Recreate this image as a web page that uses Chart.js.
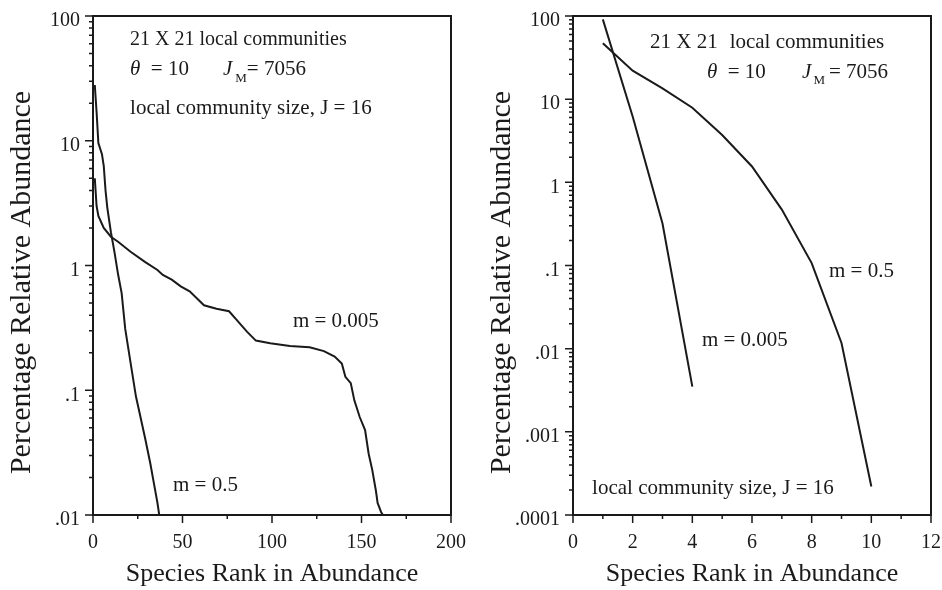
<!DOCTYPE html>
<html>
<head>
<meta charset="utf-8">
<script src="https://cdn.jsdelivr.net/npm/chart.js@4.4.1/dist/chart.umd.min.js"></script>
<style>
  body { margin: 0; background: #fff; }
  #wrap { position: relative; width: 942px; height: 590px; }
  canvas { position: absolute; top: 0; }
  #rankLeft { left: 0; }
  #rankRight { left: 470px; }
</style>
</head>
<body>
<div id="wrap">
  <canvas id="rankLeft" width="470" height="590"></canvas>
  <canvas id="rankRight" width="472" height="590"></canvas>
</div>
<script>
// J = 16, 21 x 21 grid: rank-abundance for the two migration rates
var leftRankM005 = [1, 2, 3, 6, 10, 14, 21, 29, 36, 39, 44, 49, 54, 62, 69, 76, 80, 86, 91, 99,
  110, 121, 129, 135, 139, 141, 144, 146, 149, 152, 154, 156, 158, 159, 161, 162];
var leftAbundM005 = [5.0, 3.0, 2.5, 2.0, 1.7, 1.55, 1.29, 1.07, 0.92, 0.84, 0.77, 0.68, 0.62, 0.48, 0.45, 0.43, 0.37, 0.295, 0.25, 0.238,
  0.226, 0.221, 0.206, 0.186, 0.164, 0.128, 0.114, 0.083, 0.061, 0.048, 0.031, 0.023, 0.0158, 0.0125, 0.0105, 0.01];
var leftRankM05 = [1, 2, 3, 5, 6, 7, 8, 10, 12, 14, 16, 18, 21, 24, 26, 29, 32, 34, 36, 37];
var leftAbundM05 = [28, 17, 9.6, 7.8, 6.3, 4.0, 2.9, 1.85, 1.28, 0.85, 0.6, 0.31, 0.166, 0.089, 0.066, 0.042, 0.026, 0.018, 0.0125, 0.01];

var rightRankM05 = [1, 2, 3, 4, 5, 6, 7, 8, 9, 10];
var rightAbundM05 = [47, 22, 13.5, 7.9, 3.7, 1.55, 0.47, 0.107, 0.0117, 0.00022];
var rightRankM005 = [1, 2, 3, 4];
var rightAbundM005 = [91, 6.2, 0.32, 0.0035];

var leftXTicks = [0, 50, 100, 150, 200];
var leftXLabels = ['0', '50', '100', '150', '200'];
var leftXMinor = [25, 75, 125, 175];
var leftYTicks = [0.01, 0.1, 1, 10, 100];
var leftYLabels = ['.01', '.1', '1', '10', '100'];

var rightXTicks = [0, 2, 4, 6, 8, 10, 12];
var rightXLabels = ['0', '2', '4', '6', '8', '10', '12'];
var rightXMinor = [1, 3, 5, 7, 9, 11];
var rightYTicks = [0.0001, 0.001, 0.01, 0.1, 1, 10, 100];
var rightYLabels = ['.0001', '.001', '.01', '.1', '1', '10', '100'];

var SERIF = '"Liberation Serif", "Times New Roman", serif';
var INK = '#1a1a1a';
Chart.defaults.font.family = SERIF;
Chart.defaults.color = INK;

function pairs(xs, ys) {
  return xs.map(function (x, i) { return { x: x, y: ys[i] }; });
}

// 2..9 between each pair of decades
function logMinors(decades) {
  var out = [];
  for (var i = 0; i < decades.length - 1; i++) {
    for (var k = 2; k <= 9; k++) out.push(k * decades[i]);
  }
  return out;
}

// keep the plot box where the layout padding puts it (labels may overhang)
function noLabelPadding(s) {
  s.paddingTop = 0; s.paddingBottom = 0; s.paddingLeft = 0; s.paddingRight = 0;
}

// box frame plus outward tick marks (long for majors, short for minors)
var tickMarks = {
  id: 'tickMarks',
  afterDraw: function (chart, args, opts) {
    var ctx = chart.ctx, a = chart.chartArea;
    var xs = chart.scales.x, ys = chart.scales.y;
    ctx.save();
    ctx.strokeStyle = INK;
    ctx.lineWidth = 2;
    ctx.strokeRect(a.left, a.top, a.right - a.left, a.bottom - a.top);
    ctx.lineWidth = 1.5;
    ctx.beginPath();
    opts.xMajor.forEach(function (v) {
      var px = xs.getPixelForValue(v);
      ctx.moveTo(px, a.bottom); ctx.lineTo(px, a.bottom + 8);
    });
    opts.xMinor.forEach(function (v) {
      var px = xs.getPixelForValue(v);
      ctx.moveTo(px, a.bottom); ctx.lineTo(px, a.bottom + 4);
    });
    opts.yMajor.forEach(function (v) {
      var py = ys.getPixelForValue(v);
      ctx.moveTo(a.left, py); ctx.lineTo(a.left - 8, py);
    });
    logMinors(opts.yMajor).forEach(function (v) {
      var py = ys.getPixelForValue(v);
      ctx.moveTo(a.left, py); ctx.lineTo(a.left - 4, py);
    });
    ctx.stroke();
    ctx.restore();
  }
};

// text placed in data units; each note is a run of pieces drawn side by side
var notes = {
  id: 'notes',
  afterDraw: function (chart, args, opts) {
    var ctx = chart.ctx, a = chart.chartArea;
    var xs = chart.scales.x, ys = chart.scales.y;
    ctx.save();
    ctx.fillStyle = INK;
    ctx.textAlign = 'left';
    ctx.textBaseline = 'middle';
    opts.items.forEach(function (it) {
      var x = xs.getPixelForValue(it.at[0]);
      var y = ys.getPixelForValue(it.at[1]);
      it.parts.forEach(function (p) {
        ctx.font = (p.italic ? 'italic ' : '') + (p.size || 21) + 'px ' + SERIF;
        ctx.fillText(p.text, x, y + (p.dy || 0));
        x += ctx.measureText(p.text).width + (p.gap || 0);
      });
    });
    // rotated y axis title
    ctx.translate(opts.titleX, (a.top + a.bottom) / 2 + 17);
    ctx.rotate(-Math.PI / 2);
    ctx.textAlign = 'center';
    ctx.font = '30px ' + SERIF;
    ctx.fillText('Percentage Relative Abundance', 0, 0);
    ctx.restore();
  }
};

function rankChart(id, p) {
  var line = function (xs, ys) {
    return { data: pairs(xs, ys), borderColor: INK, borderWidth: 2, pointRadius: 0, tension: 0, fill: false };
  };
  return new Chart(document.getElementById(id), {
    type: 'line',
    data: { datasets: [line(p.rankA, p.abundA), line(p.rankB, p.abundB)] },
    options: {
      responsive: false,
      animation: false,
      events: [],
      layout: { padding: { top: 16, right: p.padRight, left: 0, bottom: 0 } },
      plugins: {
        legend: { display: false },
        tooltip: { enabled: false },
        tickMarks: { xMajor: p.xTicks, xMinor: p.xMinor, yMajor: p.yTicks },
        notes: { items: p.notes, titleX: p.titleX }
      },
      scales: {
        x: {
          type: 'linear',
          min: p.xTicks[0],
          max: p.xTicks[p.xTicks.length - 1],
          grid: { display: false },
          border: { display: false },
          afterBuildTicks: function (s) { s.ticks = p.xTicks.map(function (v) { return { value: v }; }); },
          afterFit: function (s) { s.height = 75; noLabelPadding(s); },
          ticks: {
            autoSkip: false, maxRotation: 0, padding: 8,
            font: { size: 20 },
            callback: function (v, i) { return p.xLabels[i]; }
          },
          title: { display: true, text: 'Species Rank in Abundance', font: { size: 26 }, padding: { top: 0, bottom: 0 } }
        },
        y: {
          type: 'logarithmic',
          min: p.yTicks[0],
          max: p.yTicks[p.yTicks.length - 1],
          grid: { display: false },
          border: { display: false },
          afterBuildTicks: function (s) { s.ticks = p.yTicks.map(function (v) { return { value: v }; }); },
          afterFit: function (s) { s.width = p.yWidth; noLabelPadding(s); },
          ticks: {
            autoSkip: false, padding: 5, labelOffset: 5,
            font: { size: 20 },
            callback: function (v, i) { return p.yLabels[i]; }
          }
        }
      }
    },
    plugins: [tickMarks, notes]
  });
}

rankChart('rankLeft', {
  rankA: leftRankM005, abundA: leftAbundM005,
  rankB: leftRankM05, abundB: leftAbundM05,
  xTicks: leftXTicks, xLabels: leftXLabels, xMinor: leftXMinor,
  yTicks: leftYTicks, yLabels: leftYLabels,
  yWidth: 93, padRight: 19, titleX: 22,
  notes: [
    { at: [20.7, 65], parts: [{ text: '21 X 21 local communities', size: 20 }] },
    { at: [20.7, 37], parts: [{ text: '\u03B8', italic: true }, { text: '  = 10' }] },
    { at: [72.6, 37], parts: [{ text: 'J', italic: true, gap: 3 }, { text: 'M', size: 13, dy: 9 }, { text: '= 7056' }] },
    { at: [20.7, 18.3], parts: [{ text: 'local community size, J = 16' }] },
    { at: [111.7, 0.359], parts: [{ text: 'm = 0.005' }] },
    { at: [44.7, 0.0174], parts: [{ text: 'm = 0.5' }] }
  ]
});

rankChart('rankRight', {
  rankA: rightRankM05, abundA: rightAbundM05,
  rankB: rightRankM005, abundB: rightAbundM005,
  xTicks: rightXTicks, xLabels: rightXLabels, xMinor: rightXMinor,
  yTicks: rightYTicks, yLabels: rightYLabels,
  yWidth: 103, padRight: 11, titleX: 32,
  notes: [
    { at: [2.58, 48.7], parts: [{ text: '21 X 21', gap: 12 }, { text: 'local communities' }] },
    { at: [4.49, 21.2], parts: [{ text: '\u03B8', italic: true }, { text: '  = 10' }] },
    { at: [7.68, 21.2], parts: [{ text: 'J', italic: true, gap: 2 }, { text: 'M', size: 13, dy: 9, gap: 4 }, { text: '= 7056' }] },
    { at: [8.58, 0.0836], parts: [{ text: 'm = 0.5' }] },
    { at: [4.32, 0.0127], parts: [{ text: 'm = 0.005' }] },
    { at: [0.64, 0.000206], parts: [{ text: 'local community size, J = 16' }] }
  ]
});
</script>
</body>
</html>
